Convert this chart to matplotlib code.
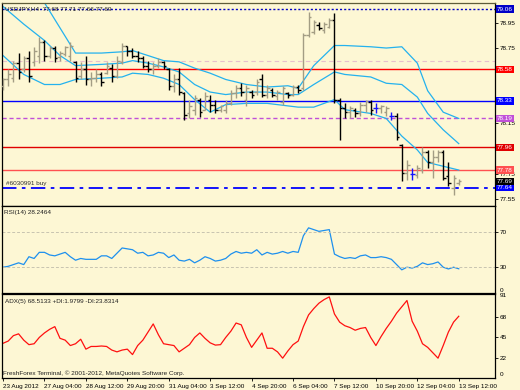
import numpy as np
import matplotlib.pyplot as plt

# USDJPY H4 bars
opens = [78.45, 78.50, 78.51, 78.63, 78.58, 78.67, 78.64, 78.69, 78.80, 78.69,
         78.75, 78.68, 78.70, 78.69, 78.64, 78.53, 78.58, 78.50, 78.51, 78.54,
         78.55, 78.59, 78.53, 78.64, 78.77, 78.73, 78.69, 78.67, 78.61, 78.58,
         78.61, 78.64, 78.58, 78.45, 78.50, 78.39, 78.23, 78.26, 78.34, 78.26,
         78.34, 78.30, 78.26, 78.26, 78.31, 78.39, 78.43, 78.34, 78.40, 78.40,
         78.50, 78.38, 78.42, 78.37, 78.32, 78.39, 78.38, 78.44, 78.43, 78.85,
         78.88, 78.93, 78.89, 78.92, 78.97, 78.34, 78.27, 78.24, 78.26, 78.23,
         78.30, 78.32, 78.27, 78.27, 78.24, 78.21, 78.21, 77.98, 77.76, 77.75,
         77.74, 77.78, 77.92, 77.84, 77.88, 77.92, 77.73, 77.64, 77.68]
highs = [78.51, 78.58, 78.65, 78.71, 78.69, 78.73, 78.76, 78.84, 78.81, 78.77,
         78.77, 78.73, 78.77, 78.80, 78.65, 78.64, 78.69, 78.56, 78.58, 78.56,
         78.64, 78.62, 78.69, 78.79, 78.77, 78.75, 78.73, 78.69, 78.65, 78.64,
         78.67, 78.65, 78.59, 78.54, 78.59, 78.40, 78.34, 78.38, 78.35, 78.40,
         78.38, 78.34, 78.30, 78.34, 78.42, 78.46, 78.47, 78.46, 78.42, 78.50,
         78.54, 78.46, 78.43, 78.42, 78.45, 78.40, 78.46, 78.46, 78.87, 79.04,
         78.97, 78.96, 78.96, 78.99, 79.03, 78.35, 78.31, 78.29, 78.27, 78.32,
         78.34, 78.34, 78.31, 78.30, 78.29, 78.24, 78.23, 77.99, 77.86, 77.80,
         77.82, 77.96, 77.94, 77.94, 77.94, 77.94, 77.84, 77.74, 77.71]
lows = [78.42, 78.45, 78.48, 78.50, 78.56, 78.48, 78.61, 78.63, 78.65, 78.67,
        78.64, 78.65, 78.69, 78.65, 78.48, 78.50, 78.46, 78.45, 78.48, 78.45,
        78.54, 78.48, 78.51, 78.62, 78.69, 78.67, 78.64, 78.59, 78.56, 78.54,
        78.59, 78.58, 78.42, 78.40, 78.38, 78.18, 78.19, 78.22, 78.20, 78.26,
        78.24, 78.23, 78.24, 78.23, 78.30, 78.35, 78.37, 78.29, 78.35, 78.38,
        78.36, 78.35, 78.36, 78.34, 78.30, 78.35, 78.37, 78.39, 78.42, 78.84,
        78.86, 78.89, 78.87, 78.91, 78.31, 78.02, 78.19, 78.19, 78.20, 78.21,
        78.24, 78.22, 78.23, 78.23, 78.21, 78.18, 78.02, 77.69, 77.70, 77.70,
        77.72, 77.76, 77.80, 77.72, 77.84, 77.70, 77.65, 77.58, 77.66]
closes = [78.50, 78.54, 78.63, 78.56, 78.67, 78.53, 78.73, 78.80, 78.69, 78.75,
          78.67, 78.71, 78.76, 78.77, 78.51, 78.58, 78.50, 78.51, 78.54, 78.48,
          78.61, 78.53, 78.65, 78.77, 78.73, 78.69, 78.67, 78.61, 78.58, 78.61,
          78.64, 78.61, 78.45, 78.50, 78.40, 78.22, 78.29, 78.35, 78.24, 78.37,
          78.30, 78.26, 78.29, 78.31, 78.39, 78.43, 78.40, 78.43, 78.38, 78.48,
          78.38, 78.43, 78.38, 78.40, 78.43, 78.38, 78.44, 78.42, 78.85, 79.00,
          78.96, 78.91, 78.94, 78.97, 78.34, 78.27, 78.24, 78.27, 78.23, 78.30,
          78.33, 78.26, 78.27, 78.29, 78.27, 78.21, 78.04, 77.76, 77.82, 77.75,
          77.80, 77.92, 77.84, 77.88, 77.92, 77.72, 77.68, 77.72, 77.69]

# bollinger bands, read at some bars
band_idx = [0, 4, 8, 11, 14, 19, 23, 25, 28, 31, 34, 37, 40, 43, 47, 51, 55, 57,
            60, 64, 66, 71, 74, 77, 80, 82, 85, 88]
band_up = [79.47, 79.23, 79.11, 78.91, 78.71, 78.71, 78.72, 78.73, 78.69, 78.65,
           78.64, 78.59, 78.55, 78.50, 78.46, 78.44, 78.45, 78.43, 78.61, 78.77,
           78.77, 78.76, 78.75, 78.76, 78.63, 78.41, 78.24, 78.19]
band_mid = [79.08, 78.94, 78.81, 78.69, 78.61, 78.62, 78.63, 78.65, 78.63, 78.60,
            78.56, 78.46, 78.40, 78.38, 78.40, 78.40, 78.38, 78.38, 78.46, 78.56,
            78.54, 78.52, 78.47, 78.46, 78.36, 78.23, 78.10, 77.99]
band_low = [78.69, 78.54, 78.46, 78.46, 78.50, 78.51, 78.52, 78.55, 78.54, 78.51,
            78.46, 78.34, 78.24, 78.30, 78.31, 78.31, 78.29, 78.28, 78.28, 78.34,
            78.26, 78.23, 78.19, 78.05, 77.94, 77.84, 77.81, 77.78]

rsi = [30, 31, 33, 35, 33, 42, 40, 47, 47, 44,
       43, 45, 47, 42, 38, 40, 39, 39, 39, 43,
       43, 40, 46, 52, 51, 50, 46, 47, 43, 44,
       47, 46, 41, 44, 38, 37, 39, 35, 38, 42,
       40, 37, 38, 40, 45, 48, 46, 47, 46, 50,
       44, 47, 45, 46, 48, 46, 48, 47, 66, 75,
       73, 71, 72, 73, 45, 42, 40, 41, 40, 43,
       44, 41, 41, 42, 41, 39, 33, 27, 30, 29,
       31, 35, 33, 34, 36, 30, 28, 30, 28.2]
adx = [38.5, 41, 47, 49, 42, 37, 38, 45, 50, 54,
       57, 44, 42, 36, 38, 43, 32, 35, 35, 35.5,
       35, 31, 29, 31, 32, 26, 36, 42, 51, 60,
       48, 38, 37, 36, 29, 33, 37, 45, 50, 44,
       39, 36.5, 37, 45, 52, 61, 59, 45, 34, 42,
       50, 33, 33, 29, 22, 30, 37, 41, 57, 70,
       77, 83, 87, 90, 71, 62, 58, 56, 53, 55,
       56, 45, 36, 46, 55, 63, 72, 79, 86, 63,
       52, 38, 34, 28, 22, 36, 51, 62, 68.5]

# horizontal levels drawn on the price window
levels = [79.06, 78.65, 78.58, 78.33, 78.19, 77.96, 77.78, 77.64]
level_tags = ['79.06', None, '78.58', '78.33', '78.19', '77.96', '77.78', '77.64']
level_colors = ['#0000c8', '#e8c0cc', '#ff0000', '#0000ff', '#c050d8', '#e00000', '#ff5050', '#0000ff']
level_styles = [(0, (1.5, 1.5)), (0, (4, 3)), '-', '-', (0, (3, 2)), '-', '-', (0, (8, 3, 2, 3))]
level_widths = [1.0, 0.8, 1.0, 1.0, 1.0, 1.0, 1.0, 1.3]
bid = 77.69

# visible price scale labels (the others sit under the level tags)
price_ticks = [77.55, 77.75, 78.15, 78.75, 78.95]
rsi_ticks = [30, 70]
adx_ticks = [22, 45, 68]
date_idx = [0, 8, 16, 24, 32, 40, 48, 56, 64, 72, 80, 88]
date_labels = ['23 Aug 2012', '27 Aug 04:00', '28 Aug 12:00', '29 Aug 20:00',
               '31 Aug 04:00', '3 Sep 12:00', '4 Sep 20:00', '6 Sep 04:00',
               '7 Sep 12:00', '10 Sep 20:00', '12 Sep 04:00', '13 Sep 12:00']

bg = '#fdf7d4'
fs = 4.6
plt.rcParams['font.family'] = ['Liberation Sans', 'DejaVu Sans']

fig = plt.figure(figsize=(5.2, 3.9), dpi=100, facecolor=bg)


def box(l, t, r, b):
    return [l / 520, 1 - b / 390, (r - l) / 520, (b - t) / 390]


ax1 = fig.add_axes(box(2, 3, 495, 206))
ax2 = fig.add_axes(box(2, 206, 495, 293))
ax3 = fig.add_axes(box(2, 294, 495, 378))

for ax in (ax1, ax2, ax3):
    ax.set_facecolor(bg)
    ax.set_xlim(-0.2, 95)
    for s in ax.spines.values():
        s.set_color('black')
        s.set_linewidth(0.9)
    ax.yaxis.tick_right()
    ax.tick_params(axis='y', labelsize=fs, length=2, pad=1.5, width=0.6)
    ax.tick_params(axis='x', length=0)
    ax.set_xticks([])
ax1.spines['top'].set_color('#5e5c3a')

# price bars
idx = np.arange(len(closes))
o = np.array(opens)
c = np.array(closes)
cols = np.where(c > o, '#a39d84', np.where(c < o, '#000000', '#1414ff'))
ax1.vlines(idx, lows, highs, colors=cols, lw=1.0, zorder=3)
ax1.hlines(o, idx - 0.5, idx, colors=cols, lw=1.0, zorder=3)
ax1.hlines(c, idx, idx + 0.5, colors=cols, lw=1.0, zorder=3)

for b in (band_up, band_mid, band_low):
    ax1.plot(band_idx, b, color='#24b2ee', lw=0.9, zorder=2)

for p, col, ls, w in zip(levels, level_colors, level_styles, level_widths):
    ax1.axhline(p, color=col, ls=ls, lw=w, zorder=1)

ax1.set_ylim(77.494, 79.108)
ax1.set_yticks(price_ticks)
ax1.set_yticklabels(['%.2f' % v for v in price_ticks])

tr = ax1.get_yaxis_transform()
for p, tag, col in zip(levels, level_tags, level_colors):
    if tag is None:
        continue
    ax1.text(1.004, p, tag, transform=tr, fontsize=fs, color='white', va='center',
             ha='left', clip_on=False, zorder=5,
             bbox=dict(boxstyle='square,pad=0.2', fc=col, ec='none'))
ax1.text(1.004, bid, '%.2f' % bid, transform=tr, fontsize=fs, color='white', va='center',
         ha='left', clip_on=False, zorder=5,
         bbox=dict(boxstyle='square,pad=0.2', fc='black', ec='none'))

# RSI window
ax2.plot(idx, rsi, color='#1e90ee', lw=0.9)
for lv in (70, 30):
    ax2.axhline(lv, color='#c8c4b0', ls=(0, (3, 2)), lw=0.7)
ax2.set_ylim(0.5, 100)
ax2.set_yticks(rsi_ticks)
tr2 = ax2.get_yaxis_transform()
ax2.text(1.01, 1, '0', transform=tr2, fontsize=fs, va='bottom', ha='left')

# ADX window
ax3.plot(idx, adx, color='#ff1010', lw=0.9)
ax3.set_ylim(0, 93.2)
ax3.set_yticks(adx_ticks)
tr3 = ax3.get_yaxis_transform()
ax3.text(1.01, 91, '91', transform=tr3, fontsize=fs, va='center', ha='left')
ax3.text(1.01, 1, '0', transform=tr3, fontsize=fs, va='bottom', ha='left')
ax3.set_xticks(date_idx)
ax3.set_xticklabels(date_labels, fontsize=fs, ha='left')
ax3.tick_params(axis='x', length=2.5, pad=1.5, width=0.6)

fig.text(5 / 520, 1 - 9 / 390, 'USDJPY,H4  77.68 77.71 77.66 77.69', fontsize=fs, va='center', color='#202020')
fig.text(6 / 520, 1 - 183 / 390, '#6030991 buy', fontsize=fs, va='center', color='#303030')
fig.text(4 / 520, 1 - 213 / 390, 'RSI(14) 28.2464', fontsize=fs, va='center', color='#202020')
fig.text(5 / 520, 1 - 301 / 390, 'ADX(5) 68.5133 +DI:1.9799 -DI:23.8314', fontsize=fs, va='center', color='#202020')
fig.text(3 / 520, 1 - 373 / 390, 'FreshForex Terminal, \u00a9 2001-2012, MetaQuotes Software Corp.',
         fontsize=fs, va='center', color='#202020')

fig.savefig('out.png', dpi=100, facecolor=bg)
